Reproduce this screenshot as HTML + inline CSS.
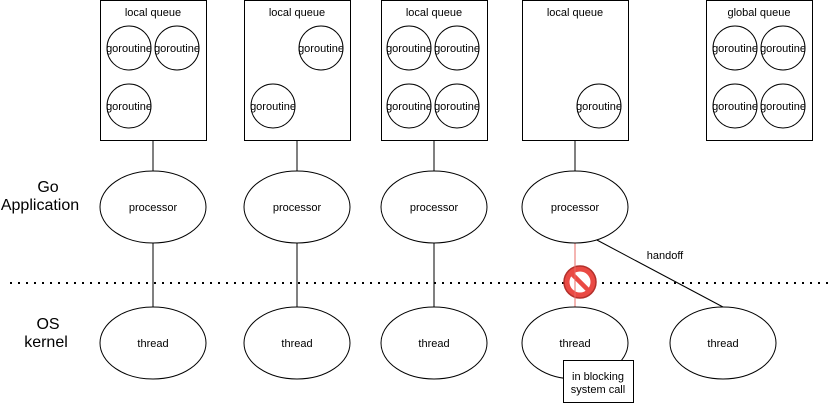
<!DOCTYPE html>
<html><head><style>body{margin:0;background:#fff}svg{display:block}text{font-family:"Liberation Sans",Arial,sans-serif;fill:#000}</style></head>
<body>
<svg width="840" height="405" viewBox="0 0 840 405" xmlns="http://www.w3.org/2000/svg">
<g stroke="#000" fill="#fff" stroke-width="1">
<rect x="100.5" y="0.5" width="106" height="140"/>
<rect x="244.5" y="0.5" width="106" height="140"/>
<rect x="381.5" y="0.5" width="106" height="140"/>
<rect x="522.5" y="0.5" width="106" height="140"/>
<rect x="706.5" y="0.5" width="106" height="140"/>
<line x1="153" y1="141" x2="153" y2="171"/>
<line x1="297" y1="141" x2="297" y2="171"/>
<line x1="434" y1="141" x2="434" y2="171"/>
<line x1="575" y1="141" x2="575" y2="171"/>
<line x1="153" y1="243" x2="153" y2="307"/>
<line x1="297" y1="243" x2="297" y2="307"/>
<line x1="434" y1="243" x2="434" y2="307"/>
<line x1="595" y1="239" x2="723" y2="307"/>
<line x1="575" y1="243" x2="575" y2="307" stroke="#ea6b66"/>
<ellipse cx="153" cy="207" rx="53" ry="36"/>
<ellipse cx="297" cy="207" rx="53" ry="36"/>
<ellipse cx="434" cy="207" rx="53" ry="36"/>
<ellipse cx="575" cy="207" rx="53" ry="36"/>
<ellipse cx="153" cy="343" rx="53" ry="36"/>
<ellipse cx="297" cy="343" rx="53" ry="36"/>
<ellipse cx="434" cy="343" rx="53" ry="36"/>
<ellipse cx="575" cy="343" rx="53" ry="36"/>
<ellipse cx="723" cy="343" rx="53" ry="36"/>
<circle cx="129" cy="48" r="22"/><circle cx="177" cy="48" r="22"/><circle cx="129" cy="106" r="22"/>
<circle cx="321" cy="48" r="22"/><circle cx="273" cy="106" r="22"/>
<circle cx="409" cy="48" r="22"/><circle cx="457" cy="48" r="22"/><circle cx="409" cy="106" r="22"/><circle cx="457" cy="106" r="22"/>
<circle cx="599" cy="106" r="22"/>
<circle cx="735" cy="48" r="22"/><circle cx="783" cy="48" r="22"/><circle cx="735" cy="106" r="22"/><circle cx="783" cy="106" r="22"/>
<rect x="563.5" y="360.5" width="70" height="42"/>
</g>
<line x1="10" y1="283" x2="830" y2="283" stroke="#000" stroke-width="2" stroke-dasharray="2,6"/>
<g>
<circle cx="580" cy="282" r="16" fill="#ea4a44" stroke="#b3302b" stroke-width="1.5"/>
<circle cx="580" cy="282" r="10.5" fill="#fff"/>
<line x1="572" y1="274" x2="588" y2="290" stroke="#ea4a44" stroke-width="4.5"/>
<line x1="575" y1="266" x2="575" y2="298" stroke="#ea6b66" stroke-width="1"/>
</g>
<g font-size="11" text-anchor="middle">
<text x="153" y="16">local queue</text><text x="297" y="16">local queue</text><text x="434" y="16">local queue</text><text x="575" y="16">local queue</text><text x="759" y="16">global queue</text>
<text x="129" y="52">goroutine</text><text x="177" y="52">goroutine</text><text x="129" y="110">goroutine</text>
<text x="321" y="52">goroutine</text><text x="273" y="110">goroutine</text>
<text x="409" y="52">goroutine</text><text x="457" y="52">goroutine</text><text x="409" y="110">goroutine</text><text x="457" y="110">goroutine</text>
<text x="599" y="110">goroutine</text>
<text x="735" y="52">goroutine</text><text x="783" y="52">goroutine</text><text x="735" y="110">goroutine</text><text x="783" y="110">goroutine</text>
<text x="153" y="211">processor</text><text x="297" y="211">processor</text><text x="434" y="211">processor</text><text x="575" y="211">processor</text>
<text x="153" y="347">thread</text><text x="297" y="347">thread</text><text x="434" y="347">thread</text><text x="575" y="347">thread</text><text x="723" y="347">thread</text>
<text x="665" y="259">handoff</text>
<text x="598" y="380">in blocking</text><text x="598" y="393">system call</text>
</g>
<g font-size="16" text-anchor="middle">
<text x="48" y="192">Go</text><text x="40" y="210">Application</text>
<text x="48" y="329">OS</text><text x="46" y="347">kernel</text>
</g>
</svg>
</body></html>
